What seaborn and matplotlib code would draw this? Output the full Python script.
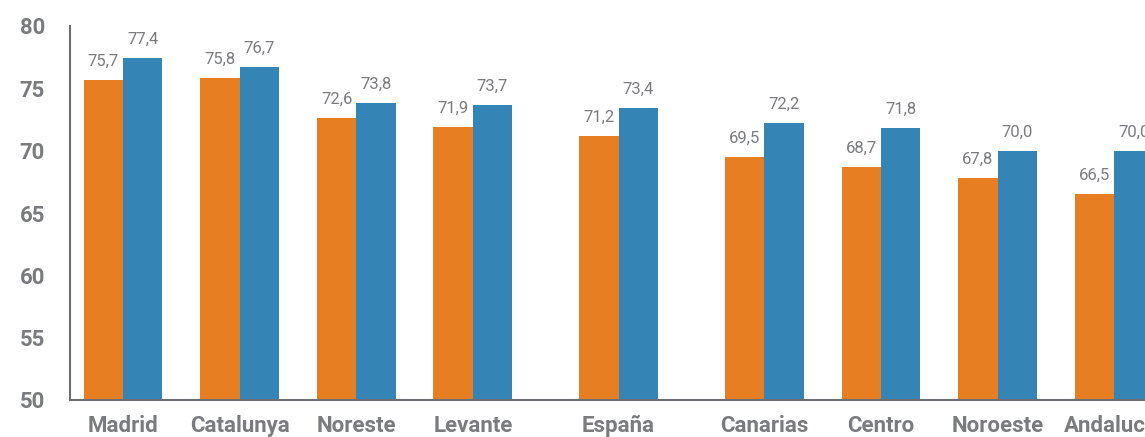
import seaborn as sns
import pandas as pd
import numpy as np
import matplotlib.pyplot as plt

regions = ["Madrid", "Catalunya", "Noreste", "Levante", "España",
           "Canarias", "Centro", "Noroeste", "Andalucía"]
positions = [0, 1, 2, 3, 4.25, 5.5, 6.5, 7.5, 8.5]
serie1 = [75.7, 75.8, 72.6, 71.9, 71.2, 69.5, 68.7, 67.8, 66.5]
serie2 = [77.4, 76.7, 73.8, 73.7, 73.4, 72.2, 71.8, 70.0, 70.0]
series_names = ["Serie 1", "Serie 2"]
yticks = [50, 55, 60, 65, 70, 75, 80]

df = pd.DataFrame({
	'pos': positions * 2,
	'valor': serie1 + serie2,
	'serie': [series_names[0]] * len(serie1) + [series_names[1]] * len(serie2),
})

sns.set_style("white")
plt.rcParams['font.family'] = ['Roboto', 'DejaVu Sans']

gray = '#7a7b7e'
fig = plt.figure(figsize=(11.45, 4.37), dpi=100)
ax = fig.add_axes([70/1145, 37/437, 1 - 70/1145, (400-26)/437])

sns.barplot(data=df, x='pos', y='valor', hue='serie', native_scale=True,
			palette=['#E87E22', '#3584B6'], width=0.675, saturation=1,
			legend=False, ax=ax, errorbar=None, linewidth=0)

for cont in ax.containers:
	labels = [f"{v:.1f}".replace('.', ',') for v in cont.datavalues]
	ax.bar_label(cont, labels=labels, padding=8, fontsize=12, color=gray)

ax.set_ylim(50, 80)
ax.set_xlim(-0.455, 8.765)
ax.set_yticks(yticks)
ax.set_yticklabels([str(t) for t in yticks], fontsize=16, fontweight='bold', color=gray)
ax.set_xticks(positions)
ax.set_xticklabels(regions, fontsize=16, fontweight='bold', color=gray)
ax.tick_params(axis='both', length=0)
ax.tick_params(axis='y', pad=18)
ax.tick_params(axis='x', pad=11)
ax.set_xlabel('')
ax.set_ylabel('')

for s in ['top', 'right']:
	ax.spines[s].set_visible(False)
for s in ['left', 'bottom']:
	ax.spines[s].set_color('#6d6e71')
	ax.spines[s].set_linewidth(1.5)

plt.savefig('out.png', dpi=100)
